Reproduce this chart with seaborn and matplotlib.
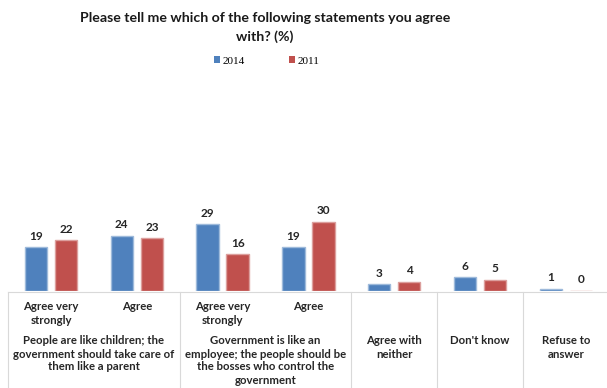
import matplotlib
matplotlib.use("Agg")
import matplotlib.pyplot as plt
import matplotlib.transforms as mtransforms
from matplotlib.colors import to_rgb
from matplotlib.patches import Patch
import pandas as pd
import seaborn as sns

# Survey answers, one entry per bar pair
items = [0, 1, 2, 3, 4, 5, 6]
item_labels = ["Agree very\nstrongly", "Agree", "Agree very\nstrongly", "Agree",
               "Agree with\nneither", "Don't know", "Refuse to\nanswer"]
groups = ["People are like children; the\ngovernment should take care of\nthem like a parent",
          "Government is like an\nemployee; the people should be\nthe bosses who control the\ngovernment"]
group_centers = [0.5, 2.5]
years = ["2014", "2011"]
values_2014 = [19, 24, 29, 19, 3, 6, 1]
values_2011 = [22, 23, 16, 30, 4, 5, 0]

title = "Please tell me which of the following statements you agree\nwith? (%)"
colors = {"2014": "#4F81BD", "2011": "#C0504D"}

df = pd.DataFrame({
    "item": items * 2,
    "year": [years[0]] * len(items) + [years[1]] * len(items),
    "value": values_2014 + values_2011,
})

W, H = 607, 388
fig = plt.figure(figsize=(W / 100, H / 100), dpi=100)
ax = fig.add_axes([8.1 / W, 1 - 291 / H, 600.6 / W, 80.5 / H])

sns.barplot(data=df, x="item", y="value", hue="year", hue_order=years,
            palette=colors, saturation=1, width=0.7, gap=0.25, ax=ax,
            legend=False, linewidth=1.0, errorbar=None, zorder=3)
ax.set_xlim(-0.5, 6.5)
ax.set_ylim(0, 35)
ax.axis("off")


def tint(c, f=0.45):
    r, g, b = to_rgb(c)
    return (r + (1 - r) * f, g + (1 - g) * f, b + (1 - b) * f)


# Light outline on every bar, so that a zero bar still shows as a thin line
for container, y in zip(ax.containers, years):
    for patch in container:
        patch.set_edgecolor(tint(colors[y]))
        patch.set_zorder(3)

bold = dict(family="Lato", fontweight="bold", color="#262626")

# Value labels above each bar
for container in ax.containers:
    ax.bar_label(container, fmt="%d", padding=4, fontsize=8.5, **bold)

# Category table below the bars
tr = mtransforms.blended_transform_factory(ax.transData, fig.transFigure)
line_kw = dict(color="#d9d9d9", lw=0.8, transform=tr, clip_on=False, zorder=1)
ax.plot([-0.5, 6.6], [1 - 291.5 / H, 1 - 291.5 / H], **line_kw)
for xb in [-0.5, 1.5, 3.5, 4.5, 5.5]:
    ax.plot([xb, xb], [1 - 291.5 / H, 0], **line_kw)

step = 13.0


def put_lines(x, text, y0):
    for k, line in enumerate(text.split("\n")):
        ax.text(x, 1 - (y0 + k * step) / H, line, transform=tr, ha="center",
                va="center", fontsize=8.2, **bold)


for i in range(4):
    put_lines(items[i], item_labels[i], 307)
for i in range(4, 7):
    put_lines(items[i], item_labels[i], 341)
for gx, g in zip(group_centers, groups):
    put_lines(gx, g, 341)

fig.text(265 / W, 1 - 18 / H, title.split("\n")[0], ha="center", va="center",
         fontsize=10.2, family="Lato", fontweight="bold", color="#1a1a1a")
fig.text(265 / W, 1 - 37 / H, title.split("\n")[1], ha="center", va="center",
         fontsize=10.2, family="Lato", fontweight="bold", color="#1a1a1a")

handles = [Patch(facecolor=colors[y], label=y) for y in years]
fig.legend(handles=handles, loc="center", bbox_to_anchor=(267 / W, 1 - 61 / H),
           ncol=2, frameon=False, handlelength=0.5, handleheight=0.5,
           handletextpad=0.25, columnspacing=4.0,
           prop=dict(family="Liberation Serif", size=8))

fig.savefig("out.png", dpi=100, facecolor="white")
